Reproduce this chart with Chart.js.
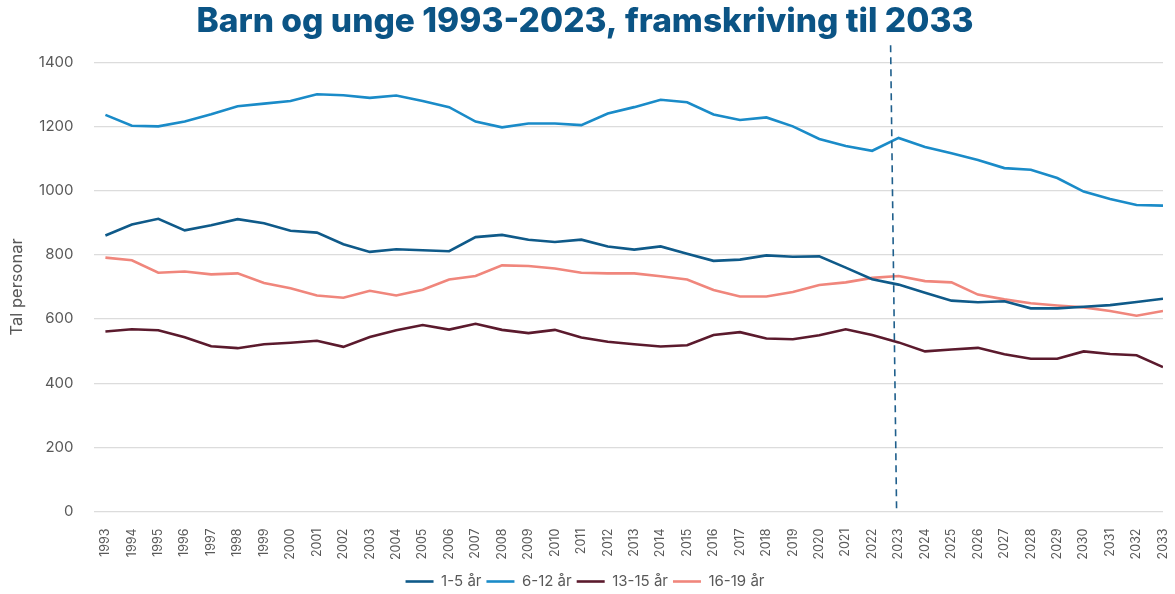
<!DOCTYPE html>
<html>
<head>
<meta charset="utf-8">
<script src="https://cdn.jsdelivr.net/npm/chart.js@4"></script>
<style>
  html, body { margin: 0; padding: 0; background: #ffffff; }
  #wrap { width: 1175px; height: 594px; }
</style>
</head>
<body>
<div id="wrap"><canvas id="graf" width="1175" height="594"></canvas></div>
<script>
// År 1993–2033 (2024 og utover er framskriving)
var aar = [1993, 1994, 1995, 1996, 1997, 1998, 1999, 2000, 2001, 2002,
           2003, 2004, 2005, 2006, 2007, 2008, 2009, 2010, 2011, 2012,
           2013, 2014, 2015, 2016, 2017, 2018, 2019, 2020, 2021, 2022,
           2023, 2024, 2025, 2026, 2027, 2028, 2029, 2030, 2031, 2032, 2033];

var alder1_5 = [860, 894, 912, 876, 892, 911, 898, 875, 869, 833,
                809, 817, 814, 811, 855, 862, 847, 840, 847, 826,
                816, 826, 803, 781, 785, 798, 794, 795, 760, 724,
                707, 682, 657, 652, 655, 633, 633, 638, 643, 653, 663];

var alder6_12 = [1236, 1202, 1200, 1215, 1238, 1263, 1271, 1279, 1300, 1297,
                 1289, 1296, 1279, 1260, 1215, 1197, 1209, 1209, 1204, 1240,
                 1260, 1283, 1275, 1237, 1220, 1228, 1200, 1161, 1139, 1124,
                 1164, 1136, 1116, 1095, 1070, 1065, 1039, 997, 974, 955, 953];

var alder13_15 = [561, 568, 565, 543, 515, 509, 521, 526, 532, 513,
                  544, 565, 581, 567, 585, 566, 556, 566, 542, 529,
                  521, 514, 518, 550, 559, 539, 537, 549, 568, 550,
                  527, 499, 505, 510, 490, 476, 476, 499, 491, 487, 450];

var alder16_19 = [791, 783, 744, 748, 739, 742, 712, 696, 673, 666,
                  688, 673, 691, 723, 734, 767, 765, 757, 744, 742,
                  742, 733, 723, 690, 670, 670, 684, 706, 714, 728,
                  734, 718, 714, 676, 661, 649, 642, 636, 625, 610, 625];

var serieNavn = ["1-5 år", "6-12 år", "13-15 år", "16-19 år"];
var farger = ["#0f5a89", "#1a8bc8", "#5b1a2d", "#f0867c"];
var yTicks = [0, 200, 400, 600, 800, 1000, 1200, 1400];
var framskrivingFra = 2023;

var tekstFarge = "#595959";

function tilPunkter(verdier) {
    return verdier.map(function (v, i) { return { x: aar[i], y: v }; });
}

// Stipla loddrett linje ved 2023
var skilleLinje = {
    id: "skilleLinje",
    afterDatasetsDraw: function (chart) {
        var xs = chart.scales.x;
        var area = chart.chartArea;
        var x = xs.getPixelForValue(framskrivingFra);
        var c = chart.ctx;
        c.save();
        c.strokeStyle = "#1f5f8c";
        c.lineWidth = 1.6;
        c.setLineDash([7, 5]);
        c.beginPath();
        c.moveTo(x - 8, area.top - 17);
        c.lineTo(x - 2, area.bottom);
        c.stroke();
        c.restore();
    }
};

var datasett = [alder1_5, alder6_12, alder13_15, alder16_19].map(function (serie, i) {
    return {
        label: serieNavn[i],
        data: tilPunkter(serie),
        borderColor: farger[i],
        backgroundColor: farger[i],
        borderWidth: 2.6,
        pointRadius: 0,
        pointHoverRadius: 0,
        tension: 0
    };
});

new Chart(document.getElementById("graf").getContext("2d"), {
    type: "line",
    data: { datasets: datasett },
    options: {
        responsive: false,
        animation: false,
        layout: { padding: { left: 7, right: 12, top: 2, bottom: -5 } },
        plugins: {
            title: {
                display: true,
                text: "Barn og unge 1993-2023, framskriving til 2033",
                color: "#0b5485",
                font: { family: "Inter", size: 33.5, weight: "800" },
                padding: { top: 0, bottom: 20 }
            },
            legend: {
                position: "bottom",
                labels: {
                    usePointStyle: true,
                    pointStyle: "line",
                    pointStyleWidth: 28,
                    color: tekstFarge,
                    font: { family: "Inter", size: 15 },
                    padding: 5
                }
            },
            tooltip: { enabled: false }
        },
        scales: {
            x: {
                type: "linear",
                min: 1992.55,
                max: 2033,
                afterBuildTicks: function (scale) {
                    scale.ticks = aar.map(function (v) { return { value: v }; });
                },
                afterFit: function (scale) {
                    scale.paddingRight = 0;
                },
                grid: { display: false },
                border: { display: false },
                ticks: {
                    autoSkip: false,
                    minRotation: 90,
                    maxRotation: 90,
                    padding: 9,
                    color: tekstFarge,
                    font: { family: "Inter", size: 12.5 },
                    callback: function (v) { return String(v); }
                }
            },
            y: {
                min: 0,
                max: 1400,
                afterBuildTicks: function (scale) {
                    scale.ticks = yTicks.map(function (v) { return { value: v }; });
                },
                grid: { color: "#dcdcdc", lineWidth: 1.3, drawTicks: true, tickLength: 8, tickColor: "rgba(0,0,0,0)" },
                border: { display: false },
                title: {
                    display: true,
                    text: "Tal personar",
                    color: tekstFarge,
                    font: { family: "Inter", size: 16.5 },
                    padding: { top: 0, bottom: 0 }
                },
                ticks: {
                    color: tekstFarge,
                    font: { family: "Inter", size: 15 },
                    padding: 12,
                    callback: function (v) { return String(v); }
                }
            }
        }
    },
    plugins: [skilleLinje]
});
</script>
</body>
</html>
